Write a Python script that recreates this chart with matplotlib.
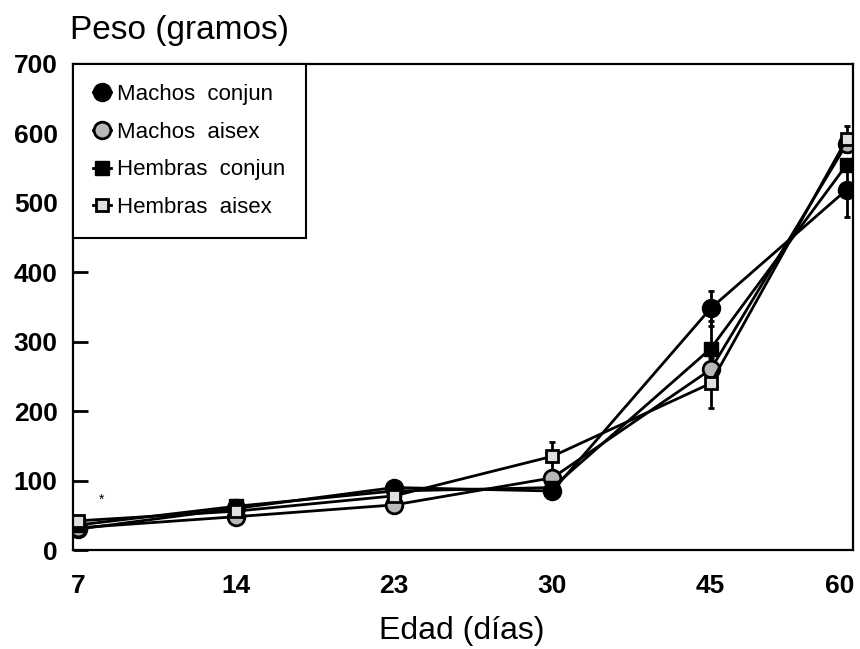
import matplotlib
matplotlib.use("Agg")
import matplotlib.pyplot as plt
from matplotlib.lines import Line2D

# datos
edades = ["7", "14", "23", "30", "45", "60"]

machos_conjun = [30, 60, 90, 85, 348, 519]
machos_aisex = [32, 48, 65, 104, 260, 585]
hembras_conjun = [36, 63, 85, 90, 290, 555]
hembras_aisex = [42, 56, 78, 135, 240, 592]

err_machos_conjun = [0, 0, 0, 0, 25, 40]
err_machos_aisex = [0, 0, 0, 0, 0, 12]
err_hembras_conjun = [0, 0, 0, 0, 40, 0]
err_hembras_aisex = [0, 0, 0, 20, 36, 19]

# el eje original no esta espaciado de forma uniforme al final
x_pos = [0, 1, 2, 3, 4, 4.86]

plt.rcParams["font.family"] = ["Liberation Sans", "DejaVu Sans"]

fig = plt.figure(figsize=(8.6, 6.49), dpi=100)
ax = fig.add_axes([0.0849, 0.1525, 0.907, 0.7489])

series = [
    ("Machos  conjun", machos_conjun, err_machos_conjun,
     dict(marker="o", ms=13, mfc="black", mec="black")),
    ("Machos  aisex", machos_aisex, err_machos_aisex,
     dict(marker="o", ms=12, mfc="#b8b8b8", mec="black", mew=2)),
    ("Hembras  conjun", hembras_conjun, err_hembras_conjun,
     dict(marker="s", ms=10, mfc="black", mec="black")),
    ("Hembras  aisex", hembras_aisex, err_hembras_aisex,
     dict(marker="s", ms=9, mfc="#e0e0e0", mec="black", mew=2)),
]

handles = []
for label, vals, errs, style in series:
    ax.errorbar(x_pos, vals, yerr=errs, color="black", lw=2,
                elinewidth=2, capsize=2, capthick=2, **style)
    handles.append(Line2D([], [], color="black", lw=2, label=label, **style))

ax.text(0.15, 72, "*", fontsize=10, ha="center", va="center")

ax.set_xlim(-0.03, x_pos[-1] + 0.04)
ax.set_ylim(0, 700)
ax.set_xticks(x_pos)
# la etiqueta "60" va algo a la izquierda de su punto, se pone aparte
ax.set_xticklabels(edades[:-1] + [""])
ax.annotate(edades[-1], xy=(x_pos[-1], 0), xycoords=("data", "axes fraction"),
            xytext=(-5, -17), textcoords="offset points", ha="center",
            va="top", fontsize=19, fontweight="bold")
ax.set_yticks(range(0, 701, 100))

for lbl in ax.get_xticklabels() + ax.get_yticklabels():
    lbl.set_fontweight("bold")
    lbl.set_fontsize(19)

ax.tick_params(axis="y", direction="in", length=11, width=2, pad=11)
ax.tick_params(axis="x", length=0, pad=17)
for sp in ax.spines.values():
    sp.set_linewidth(1.6)

leg = ax.legend(handles=handles, loc="upper left", bbox_to_anchor=(0, 1),
                borderaxespad=0, fontsize=16, fancybox=False, framealpha=1,
                edgecolor="black", handlelength=0.8, handletextpad=0.3,
                labelspacing=0.75, borderpad=0.9)
leg.get_frame().set_linewidth(1.5)

fig.text(70 / 860, 1 - 31 / 649, "Peso (gramos)", fontsize=24,
         ha="left", va="center")
fig.text(462 / 860, 1 - 631 / 649, "Edad (días)", fontsize=23,
         ha="center", va="center")

fig.savefig("out.png", dpi=100)
